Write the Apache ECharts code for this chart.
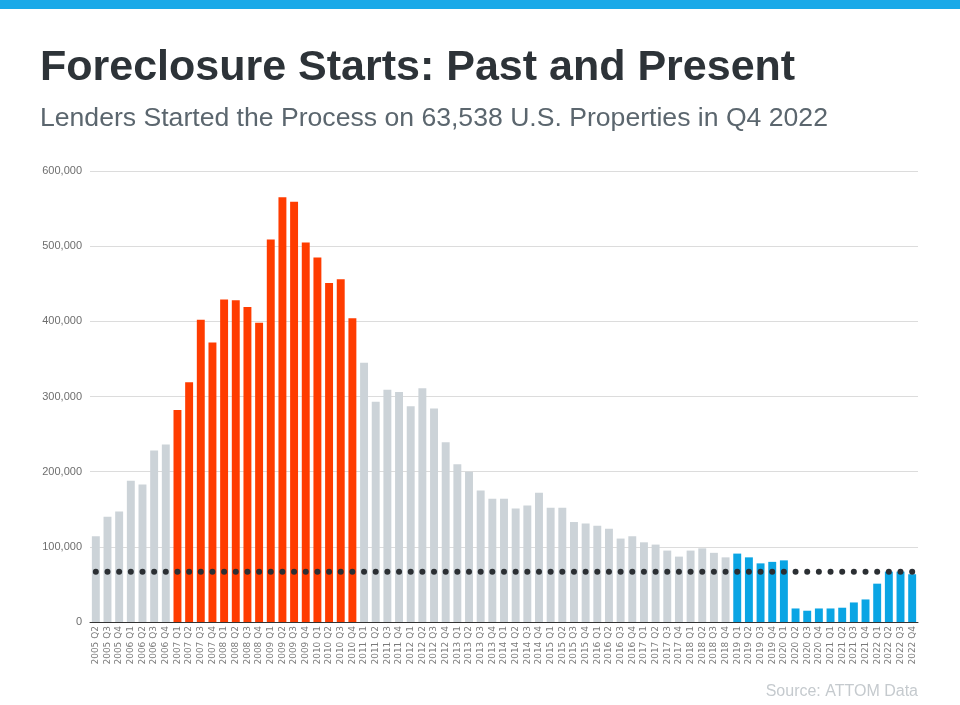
<!DOCTYPE html>
<html>
<head>
<meta charset="utf-8">
<title>Foreclosure Starts: Past and Present</title>
<script src="https://cdn.jsdelivr.net/npm/echarts@6/dist/echarts.min.js"></script>
<style>
  html, body { margin: 0; padding: 0; background: #fff; }
  #chart { width: 960px; height: 705px; }
</style>
</head>
<body>
<div id="chart"></div>
<script>
// quarters on the x axis
const quarters = [
  '2005 Q2', '2005 Q3', '2005 Q4',
  '2006 Q1', '2006 Q2', '2006 Q3', '2006 Q4',
  '2007 Q1', '2007 Q2', '2007 Q3', '2007 Q4',
  '2008 Q1', '2008 Q2', '2008 Q3', '2008 Q4',
  '2009 Q1', '2009 Q2', '2009 Q3', '2009 Q4',
  '2010 Q1', '2010 Q2', '2010 Q3', '2010 Q4',
  '2011 Q1', '2011 Q2', '2011 Q3', '2011 Q4',
  '2012 Q1', '2012 Q2', '2012 Q3', '2012 Q4',
  '2013 Q1', '2013 Q2', '2013 Q3', '2013 Q4',
  '2014 Q1', '2014 Q2', '2014 Q3', '2014 Q4',
  '2015 Q1', '2015 Q2', '2015 Q3', '2015 Q4',
  '2016 Q1', '2016 Q2', '2016 Q3', '2016 Q4',
  '2017 Q1', '2017 Q2', '2017 Q3', '2017 Q4',
  '2018 Q1', '2018 Q2', '2018 Q3', '2018 Q4',
  '2019 Q1', '2019 Q2', '2019 Q3', '2019 Q4',
  '2020 Q1', '2020 Q2', '2020 Q3', '2020 Q4',
  '2021 Q1', '2021 Q2', '2021 Q3', '2021 Q4',
  '2022 Q1', '2022 Q2', '2022 Q3', '2022 Q4'
];

// foreclosure starts per quarter
const starts = [
  114000, 140000, 147000,
  188000, 183000, 228000, 236000,
  282000, 319000, 402000, 372000,
  429000, 428000, 419000, 398000,
  509000, 565000, 559000, 505000,
  485000, 451000, 456000, 404000,
  345000, 293000, 309000, 306000,
  287000, 311000, 284000, 239000,
  210000, 200000, 175000, 164000,
  164000, 151000, 155000, 172000,
  152000, 152000, 133000, 131000,
  128000, 124000, 111000, 114000,
  106000, 103000, 95000, 87000,
  95000, 98000, 92000, 86000,
  91000, 86000, 78000, 80000,
  82000, 18000, 15000, 18000,
  18000, 19000, 26000, 30000,
  51000, 67000, 67000, 63538
];

// dotted reference level
const referenceLevel = 67000;

// which years get which colour
const crisisYears = ['2007', '2008', '2009', '2010'];
const recentYears = ['2019', '2020', '2021', '2022'];

const yTicks = [0, 100000, 200000, 300000, 400000, 500000, 600000];

const GREY = '#ccd3d8';
const ORANGE = '#ff3c00';
const BLUE = '#0aa5e4';

function barColor(label) {
  let year = label.slice(0, 4);
  if (crisisYears.indexOf(year) >= 0) return ORANGE;
  if (recentYears.indexOf(year) >= 0) return BLUE;
  return GREY;
}

const chart = echarts.init(document.getElementById('chart'), null, { renderer: 'canvas' });

const option = {
  backgroundColor: '#fff',
  animation: false,
  textStyle: { fontFamily: 'Liberation Sans, Arial, sans-serif' },
  graphic: [
    {
      type: 'rect',
      shape: { x: 0, y: 0, width: 960, height: 9 },
      style: { fill: '#1aa9e8' }
    },
    {
      type: 'text',
      left: 40, top: 47,
      style: {
        text: 'Foreclosure Starts: Past and Present',
        font: 'bold 43px "Liberation Sans", Arial, sans-serif',
        fill: '#2d3338'
      }
    },
    {
      type: 'text',
      left: 40, top: 105,
      style: {
        text: 'Lenders Started the Process on 63,538 U.S. Properties in Q4 2022',
        font: '26.6px "Liberation Sans", Arial, sans-serif',
        fill: '#5b666e'
      }
    },
    {
      type: 'text',
      right: 42, top: 684,
      style: {
        text: 'Source: ATTOM Data',
        font: '16px "Liberation Sans", Arial, sans-serif',
        fill: '#c5cace'
      }
    }
  ],
  grid: { left: 90, right: 42, top: 171, bottom: 83, containLabel: false },
  xAxis: {
    type: 'category',
    data: quarters,
    axisTick: { show: false },
    axisLine: { lineStyle: { color: '#333', width: 1 } },
    axisLabel: {
      interval: 0,
      rotate: 90,
      fontSize: 9,
      fontFamily: 'DejaVu Sans',
      color: '#7a7a7a',
      margin: 4
    }
  },
  yAxis: {
    type: 'value',
    min: yTicks[0],
    max: yTicks[yTicks.length - 1],
    interval: yTicks[1] - yTicks[0],
    axisLine: { show: false },
    axisTick: { show: false },
    splitLine: { lineStyle: { color: '#dcdcdc', width: 1 } },
    axisLabel: {
      fontSize: 11,
      color: '#6e6e6e',
      margin: 8,
      formatter: function(v) { return v.toLocaleString('en-US'); }
    }
  },
  series: [
    {
      name: 'Foreclosure Starts',
      type: 'bar',
      barCategoryGap: '32%',
      data: starts.map(function(v, i) {
        return { value: v, itemStyle: { color: barColor(quarters[i]) } };
      }),
      z: 2
    },
    {
      name: 'Reference',
      type: 'line',
      data: quarters.map(function() { return referenceLevel; }),
      symbol: 'circle',
      symbolSize: 6,
      showSymbol: true,
      lineStyle: { opacity: 0 },
      itemStyle: { color: '#2b2f33' },
      z: 5
    }
  ]
};

chart.setOption(option);
</script>
</body>
</html>
